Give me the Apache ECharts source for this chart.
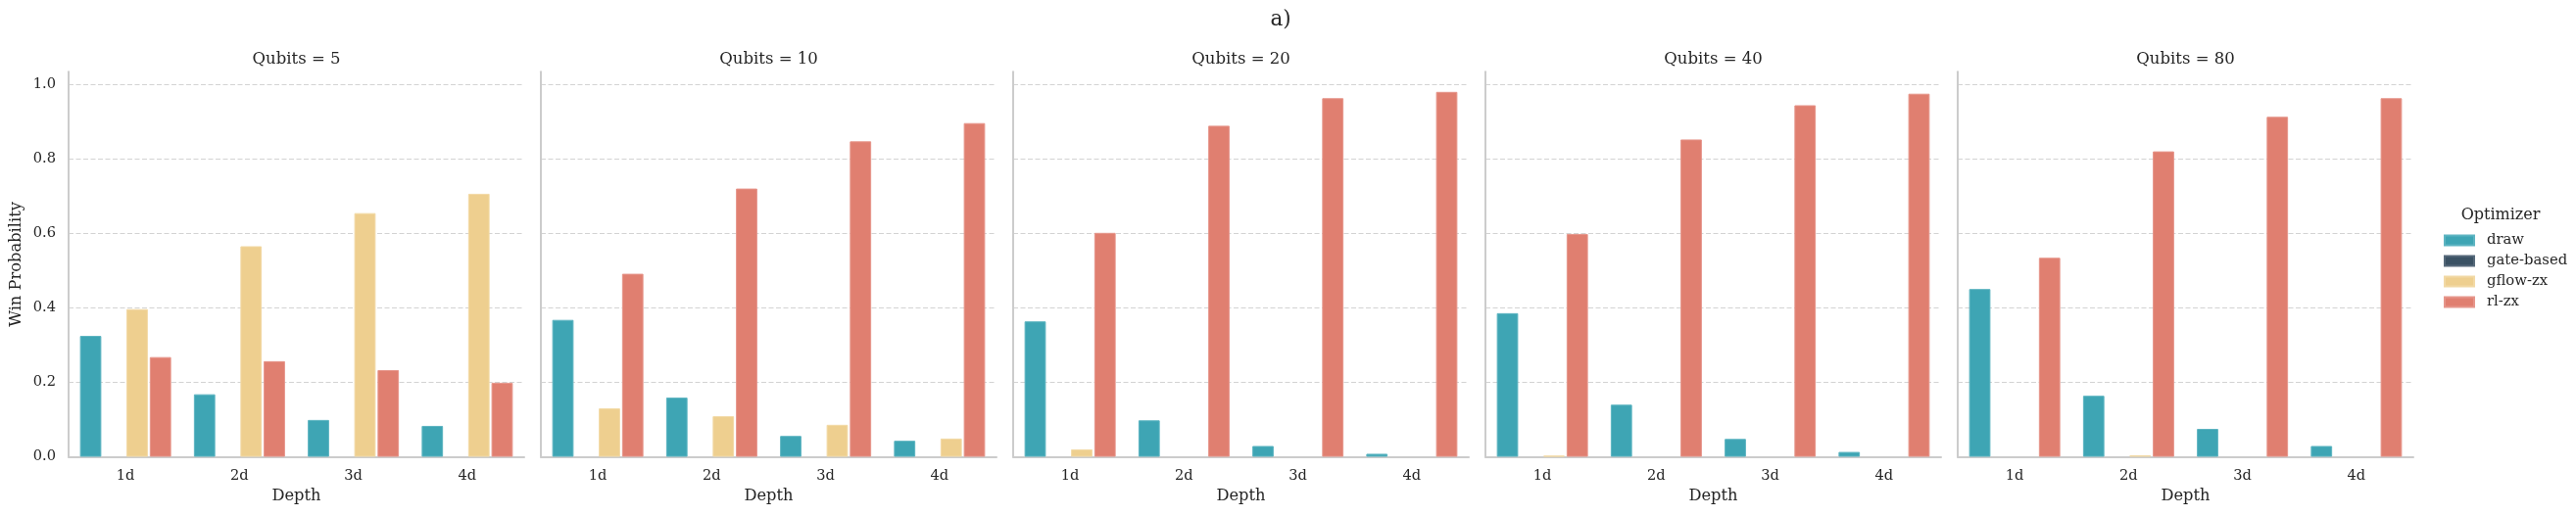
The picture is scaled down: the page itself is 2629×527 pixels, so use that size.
<!DOCTYPE html>
<html><head><meta charset="utf-8">
<script src="https://cdn.jsdelivr.net/npm/echarts@6/dist/echarts.min.js"></script>
<style>html,body{margin:0;padding:0;background:#fff}#c{width:2629px;height:527px}</style>
</head><body><div id="c"></div>
<script>
// ---- data ----
const depths = ['1d', '2d', '3d', '4d'];
const qubits = [5, 10, 20, 40, 80];
const optimizers = ['draw', 'gate-based', 'gflow-zx', 'rl-zx'];
// one row per Qubits panel, one value per depth
const drawVals  = [[0.325, 0.168, 0.099, 0.083], [0.368, 0.159, 0.056, 0.043], [0.364, 0.098, 0.029, 0.008], [0.386, 0.140, 0.048, 0.013], [0.451, 0.164, 0.075, 0.029]];
const gateVals  = [[0, 0, 0, 0], [0, 0, 0, 0], [0, 0, 0, 0], [0, 0, 0, 0], [0, 0, 0, 0]];
const gflowVals = [[0.397, 0.566, 0.655, 0.707], [0.130, 0.109, 0.086, 0.049], [0.020, 0, 0, 0], [0.003, 0, 0, 0], [0, 0.004, 0, 0]];
const rlVals    = [[0.268, 0.257, 0.233, 0.199], [0.492, 0.721, 0.848, 0.897], [0.602, 0.890, 0.964, 0.981], [0.599, 0.853, 0.945, 0.976], [0.535, 0.821, 0.914, 0.964]];
const yTickStep = 0.2;

// ---- style ----
const FONT = 'DejaVu Serif';
const TXT = '#262626';
const colors = ['#3ea5b4', '#3b5264', '#eecf8f', '#e07f70'];
const borders = ['#5db4c1', '#56697a', '#f2d9a5', '#e6958a'];
const panelLefts = [70, 552, 1034, 1516, 1998];
const panelW = 465, panelTop = 73.3, panelH = 393.2;

const allVals = [drawVals, gateVals, gflowVals, rlVals];

const grids = [], xAxes = [], yAxes = [], series = [], titles = [];
titles.push({ text: 'a)', left: 1307, top: 9, textAlign: 'center', padding: 0,
  textStyle: { fontFamily: FONT, fontSize: 21.5, fontWeight: 'normal', color: TXT } });
titles.push({ text: 'Optimizer', left: 2552, top: 211.5, textAlign: 'center', padding: 0,
  textStyle: { fontFamily: FONT, fontSize: 16, fontWeight: 'normal', color: TXT } });

qubits.forEach((q, i) => {
  grids.push({ left: panelLefts[i], top: panelTop, width: panelW, height: panelH, containLabel: false });
  titles.push({ text: 'Qubits = ' + q, left: panelLefts[i] + panelW / 2, top: 52, textAlign: 'center', padding: 0,
    textStyle: { fontFamily: FONT, fontSize: 16.5, fontWeight: 'normal', color: TXT } });
  xAxes.push({
    type: 'category', gridIndex: i, data: depths,
    axisLine: { show: true, lineStyle: { color: '#cccccc', width: 2 } },
    axisTick: { show: false },
    axisLabel: { fontFamily: FONT, fontSize: 14.6, color: TXT, margin: 12 },
    name: 'Depth', nameLocation: 'middle', nameGap: 32,
    nameTextStyle: { fontFamily: FONT, fontSize: 16.3, color: TXT }
  });
  yAxes.push({
    type: 'value', gridIndex: i, min: 0, max: 1.035, interval: yTickStep,
    axisLine: { show: true, lineStyle: { color: '#cccccc', width: 2 } },
    axisTick: { show: false },
    axisLabel: { show: i === 0, fontFamily: FONT, fontSize: 14.6, color: TXT, margin: 13,
      showMaxLabel: false, formatter: v => v.toFixed(1) },
    splitLine: { show: true, showMaxLine: false, showMinLine: false,
      lineStyle: { color: '#d3d3d3', width: 1, type: [5, 2.5] } },
    name: i === 0 ? 'Win Probability' : '', nameLocation: 'middle', nameGap: 45, nameRotate: 90,
    nameTextStyle: { fontFamily: FONT, fontSize: 16.3, color: TXT }
  });
  optimizers.forEach((opt, k) => {
    series.push({
      type: 'bar', name: opt, xAxisIndex: i, yAxisIndex: i,
      barCategoryGap: '20%', barGap: '9%',
      itemStyle: { color: colors[k], borderColor: borders[k], borderWidth: 1 },
      emphasis: { disabled: true },
      data: allVals[k][i].map(v => v === 0 ? { value: 0, itemStyle: { borderWidth: 0 } } : v)
    });
  });
});

const chart = echarts.init(document.getElementById('c'), null, { renderer: 'canvas' });
chart.setOption({
  animation: false,
  backgroundColor: '#ffffff',
  title: titles,
  legend: {
    data: optimizers, orient: 'vertical', left: 2489, top: 233,
    icon: 'rect', itemWidth: 30, itemHeight: 10, itemGap: 6,
    textStyle: { fontFamily: FONT, fontSize: 14.8, color: TXT, padding: [0, 0, 0, 8] }
  },
  grid: grids, xAxis: xAxes, yAxis: yAxes, series: series
});
</script></body></html>
